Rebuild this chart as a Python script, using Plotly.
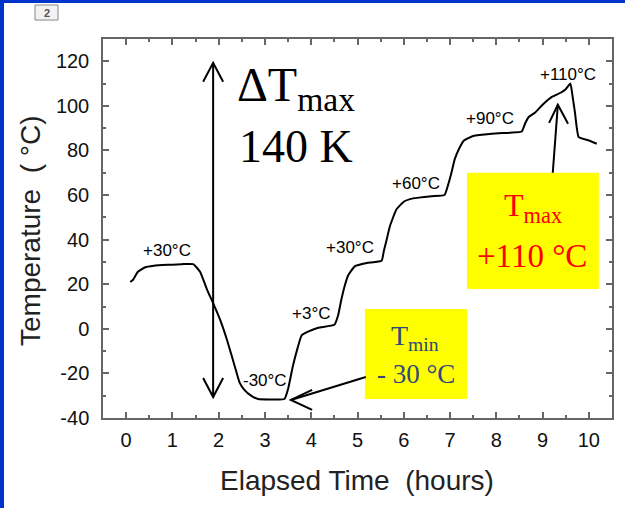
import plotly.graph_objects as go

# ---- data ----
time_h = [0.09, 0.15, 0.25, 0.4, 0.6, 0.9, 1.2, 1.45, 1.6, 1.75, 1.88, 2.05, 2.18, 2.35, 2.45,
          2.56, 2.7, 2.85, 3.1, 3.42, 3.5, 3.6, 3.7, 3.79, 3.93, 4.15, 4.5, 4.58, 4.65, 4.72,
          4.8, 4.94, 5.2, 5.52, 5.57, 5.63, 5.7, 5.84, 6.0, 6.2, 6.6, 6.88, 6.95, 7.03, 7.1,
          7.2, 7.3, 7.5, 7.9, 8.3, 8.55, 8.62, 8.7, 8.84, 9.0, 9.2, 9.4, 9.5, 9.6, 9.65, 9.7,
          9.78, 10.0, 10.17]
temp_c = [21, 22, 25.5, 27.5, 28.3, 28.7, 29, 29, 25.5, 17.5, 11.5, 3, -5, -17, -24,
          -27.5, -30, -31.5, -31.7, -31.5, -27, -17, -9, -3, -1.3, 0.5, 1.8, 6, 13, 19,
          24, 28, 29.5, 30.5, 35, 40, 46, 53.5, 57, 58.5, 59.5, 60, 64, 70, 76,
          81, 84.5, 86.5, 87.5, 88, 88.5, 92, 95, 97, 100.5, 104, 106, 107.5, 110, 104, 97,
          86, 84.5, 83]

step_labels = ["+30°C", "+3°C", "-30°C", "+30°C", "+60°C", "+90°C", "+110°C"]
step_label_t = [0.885, 4.0, 3.0, 4.84, 6.26, 7.86, 9.55]
step_label_T = [35.0, 6.7, -23.4, 36.3, 65.0, 94.2, 114.0]

x_ticks = list(range(0, 11))
y_ticks = list(range(-40, 121, 20))
y_tick_text = [str(v) for v in y_ticks]  # hyphen minus as in the original

fig = go.Figure()
fig.add_trace(go.Scatter(x=time_h, y=temp_c, mode="lines",
                         line=dict(color="black", width=2, shape="spline", smoothing=0.4),
                         showlegend=False, hoverinfo="skip"))

shapes = []
# blue frame (left and top)
shapes.append(dict(type="rect", xref="paper", yref="paper", x0=-0.2024, x1=-0.1945,
                   y0=-0.24, y1=1.11, fillcolor="#0033CC", line=dict(width=0), layer="above"))
shapes.append(dict(type="rect", xref="paper", yref="paper", x0=-0.2024, x1=1.03,
                   y0=1.095, y1=1.11, fillcolor="#0033CC", line=dict(width=0), layer="above"))
# small page box
shapes.append(dict(type="rect", xref="paper", yref="paper", x0=-0.1336, x1=-0.0884,
                   y0=1.050, y1=1.0897, fillcolor="#F2F2F2",
                   line=dict(color="#888888", width=1)))
# yellow boxes
shapes.append(dict(type="rect", x0=7.365, x1=10.216, y0=17.9, y1=70.0,
                   fillcolor="#FFFF00", line=dict(width=0), layer="above"))
shapes.append(dict(type="rect", x0=5.16, x1=7.365, y0=-31.5, y1=8.9,
                   fillcolor="#FFFF00", line=dict(width=0), layer="above"))
arrow_style = dict(color="black", width=2)
# double arrow
shapes.append(dict(type="line", x0=1.88, x1=1.88, y0=-30.6, y1=119.3, line=arrow_style, layer="above"))
shapes.append(dict(type="path", path="M 1.664,110.8 L 1.88,119.3 L 2.096,110.8",
                   line=arrow_style, layer="above"))
shapes.append(dict(type="path", path="M 1.664,-22.1 L 1.88,-30.6 L 2.096,-22.1",
                   line=arrow_style, layer="above"))
# Tmin arrow
shapes.append(dict(type="line", x0=5.18, y0=-21.6, x1=3.56, y1=-31.9, line=arrow_style, layer="above"))
shapes.append(dict(type="path", path="M 4.02,-27.4 L 3.56,-31.9 L 4.02,-36.4",
                   line=arrow_style, layer="above"))
# Tmax arrow
shapes.append(dict(type="line", x0=9.22, y0=70.0, x1=9.33, y1=100.5, line=arrow_style, layer="above"))
shapes.append(dict(type="path", path="M 9.14,92.4 L 9.33,100.5 L 9.55,92.0",
                   line=arrow_style, layer="above"))

annotations = []
for txt, tx, ty in zip(step_labels, step_label_t, step_label_T):
    annotations.append(dict(x=tx, y=ty, text=txt, showarrow=False,
                            xanchor="center", yanchor="middle",
                            font=dict(family="Arial, Liberation Sans", size=17, color="black")))

serif = "Liberation Serif, Times New Roman, serif"
annotations += [
    dict(x=2.35, y=108, xanchor="left", yanchor="middle", text="ΔT<sub>max</sub>",
         showarrow=False, font=dict(family=serif, size=48, color="black")),
    dict(x=2.39, y=82, xanchor="left", yanchor="middle", text="140 K",
         showarrow=False, font=dict(family=serif, size=46, color="black")),
    dict(x=8.79, y=54.5, xanchor="center", yanchor="middle", text="T<sub>max</sub>", showarrow=False,
         font=dict(family=serif, size=32, color="#FF0000")),
    dict(x=8.77, y=32.7, xanchor="center", yanchor="middle", text="+110 °C", showarrow=False,
         font=dict(family=serif, size=33, color="#FF0000")),
    dict(x=6.24, y=-4.0, xanchor="center", yanchor="middle", text="T<sub>min</sub>", showarrow=False,
         font=dict(family=serif, size=28, color="#2E4A7A")),
    dict(x=6.26, y=-20.3, xanchor="center", yanchor="middle", text="- 30 °C", showarrow=False,
         font=dict(family=serif, size=27, color="#2E4A7A")),
    # page number box
    dict(xref="paper", yref="paper", x=-0.111, y=1.0699, xanchor="center", yanchor="middle",
         text="<b>2</b>", showarrow=False,
         font=dict(family="Arial", size=11, color="#555555")),
    # axis titles
    dict(xref="paper", yref="paper", x=0.499, y=-0.1636, xanchor="center", yanchor="middle",
         text="Elapsed Time  (hours)",
         showarrow=False, font=dict(family="Arial, Liberation Sans", size=28, color="#222222")),
    dict(xref="paper", yref="paper", x=-0.1434, y=0.4934, xanchor="center", yanchor="middle",
         text="Temperature  ( °C)",
         textangle=-90, showarrow=False,
         font=dict(family="Arial, Liberation Sans", size=28, color="#222222")),
]

axis_common = dict(showline=True, linecolor="#666666", linewidth=1.5, mirror="ticks",
                   ticks="inside", tickcolor="#666666", tickwidth=1.5, ticklen=6,
                   showgrid=False, zeroline=False,
                   tickfont=dict(family="Arial, Liberation Sans", size=20, color="#111111"))

fig.update_layout(
    width=625, height=508,
    margin=dict(l=103, r=13, t=39, b=90),
    paper_bgcolor="white", plot_bgcolor="white",
    xaxis=dict(range=[-0.5, 10.5], tickvals=x_ticks,
               minor=dict(dtick=0.5, tick0=0, ticks="inside", ticklen=3,
                          tickcolor="#666666", tickwidth=1.5),
               ticklabelstandoff=3, **axis_common),
    yaxis=dict(range=[-40, 130], tickvals=y_ticks, ticktext=y_tick_text,
               minor=dict(dtick=10, tick0=0, ticks="inside", ticklen=3,
                          tickcolor="#666666", tickwidth=1.5),
               ticklabelstandoff=8, **axis_common),
    shapes=shapes, annotations=annotations,
)

fig.write_html("out.html")
